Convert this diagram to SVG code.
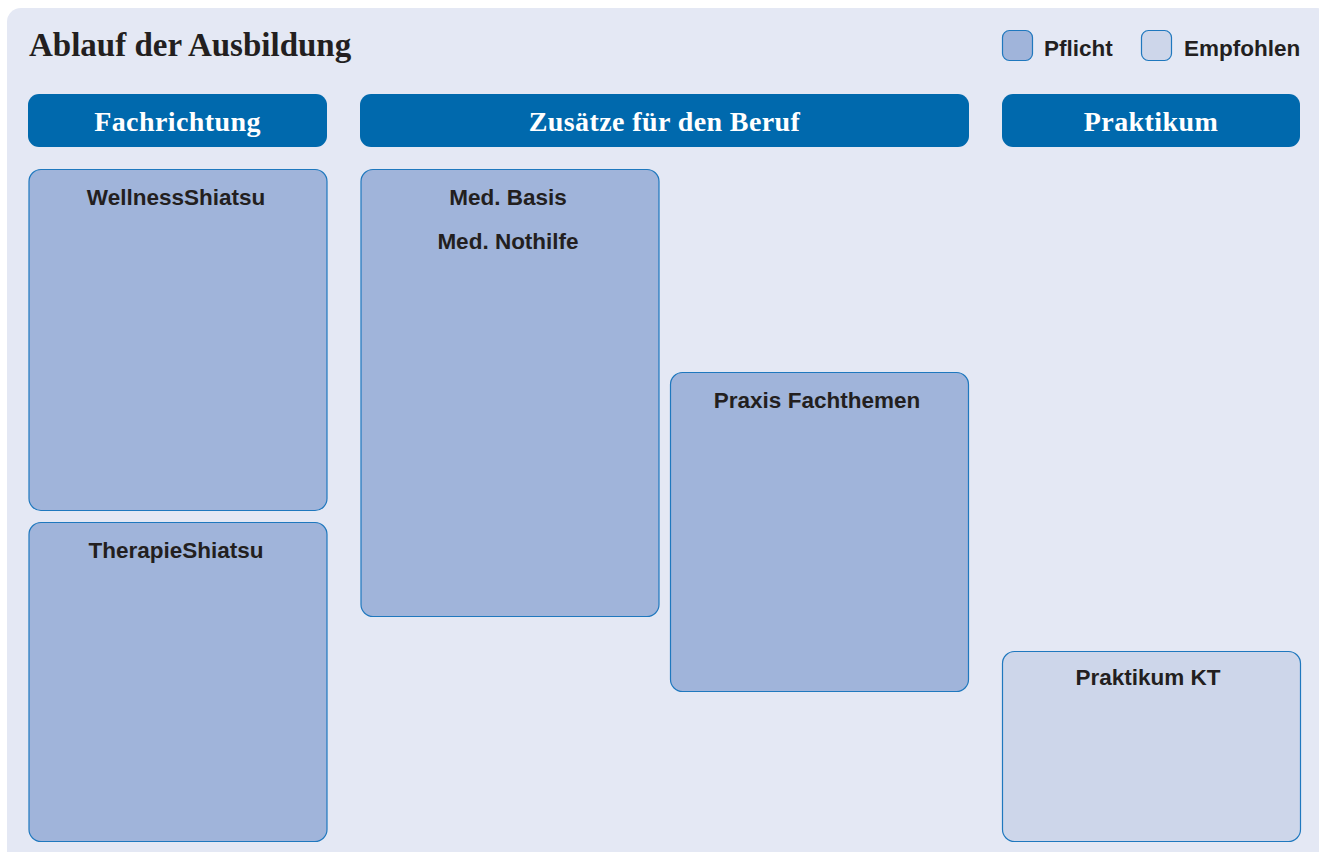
<svg xmlns="http://www.w3.org/2000/svg" width="1319" height="852" viewBox="0 0 1319 852">
<style>
.bg{fill:#e4e8f4}
.hdr{fill:#0069ad}
.hdrt{font-family:"Liberation Serif",serif;font-weight:bold;font-size:28px;letter-spacing:0.4px;fill:#ffffff;text-anchor:middle}
.title{font-family:"Liberation Serif",serif;font-weight:bold;font-size:33px;fill:#231f20}
.req{fill:#a0b4da;stroke:#1f78be;stroke-width:1.2}
.rec{fill:#cdd6ea;stroke:#1f78be;stroke-width:1.2}
.lbl{font-family:"Liberation Sans",Arial,sans-serif;font-weight:bold;font-size:22.5px;fill:#231f20;text-anchor:middle}
.leg{font-family:"Liberation Sans",Arial,sans-serif;font-weight:bold;font-size:22.5px;fill:#231f20}
</style>
<rect x="0" y="0" width="1319" height="852" fill="#ffffff"/>
<rect class="bg" x="7" y="8" width="1324" height="860" rx="14"/>
<text class="title" x="29" y="56">Ablauf der Ausbildung</text>
<g id="legend">
<rect class="req" x="1002.5" y="30.5" width="30" height="30" rx="7"/>
<text class="leg" x="1044" y="56">Pflicht</text>
<rect class="rec" x="1141.5" y="30.5" width="30" height="30" rx="7"/>
<text class="leg" x="1184" y="56">Empfohlen</text>
</g>
<g id="hdr-fachrichtung"><rect class="hdr" x="28" y="94" width="299" height="53" rx="11"/><text class="hdrt" x="177.5" y="131">Fachrichtung</text></g>
<g id="hdr-zusaetze"><rect class="hdr" x="360" y="94" width="609" height="53" rx="11"/><text class="hdrt" x="664.5" y="131">Zusätze für den Beruf</text></g>
<g id="hdr-praktikum"><rect class="hdr" x="1002" y="94" width="298" height="53" rx="11"/><text class="hdrt" x="1151" y="131">Praktikum</text></g>
<g id="wellness"><rect class="req" x="29" y="169.5" width="298" height="341" rx="12"/><text class="lbl" x="176" y="205">WellnessShiatsu</text></g>
<g id="therapie"><rect class="req" x="29" y="522.5" width="298" height="319" rx="12"/><text class="lbl" x="176" y="558">TherapieShiatsu</text></g>
<g id="med"><rect class="req" x="361" y="169.5" width="298" height="447" rx="12"/><text class="lbl" x="508" y="205">Med. Basis</text><text class="lbl" x="508" y="249">Med. Nothilfe</text></g>
<g id="praxis"><rect class="req" x="670.5" y="372.5" width="298" height="319" rx="12"/><text class="lbl" x="817" y="408">Praxis Fachthemen</text></g>
<g id="praktikumkt"><rect class="rec" x="1002.5" y="651.5" width="298" height="190" rx="12"/><text class="lbl" x="1148" y="685">Praktikum KT</text></g>
<g id="connectors"></g>
</svg>
